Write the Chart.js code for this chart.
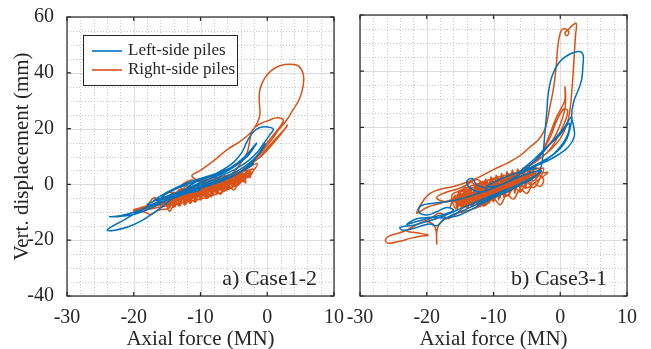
<!DOCTYPE html>
<html>
<head>
<meta charset="utf-8">
<script src="https://cdn.jsdelivr.net/npm/chart.js@4/dist/chart.umd.min.js"></script>
<style>
  body { margin: 0; background: #fff; }
  .wrap { position: relative; width: 651px; height: 349px; }
  .wrap canvas { position: absolute; left: 0; top: 0; }
</style>
</head>
<body>
<div class="wrap">
  <canvas id="panelA" width="651" height="349"></canvas>
  <canvas id="panelB" width="651" height="349"></canvas>
</div>
<script>
// tick labels and names
const xTicks = [-30, -20, -10, 0, 10];
const yTicks = [-40, -20, 0, 20, 40, 60];
const xMinor = [-28, -26, -24, -22, -18, -16, -14, -12, -8, -6, -4, -2, 2, 4, 6, 8];
const yMinor = [-35, -30, -25, -15, -10, -5, 5, 10, 15, 25, 30, 35, 45, 50, 55];
const seriesNames = ["Left-side piles", "Right-side piles"];
const panelNames = ["a) Case1-2", "b) Case3-1"];

// a) Case1-2, left-side piles  [axial force MN, vert. displacement mm]
const case12Left = [
  [-10,-2],[-12,-3.2],[-14,-4.8],[-16,-6.5],[-18,-8.2],[-20,-10],[-22,-11.2],[-23.6,-11.6],[-21.5,-11.3],[-19.5,-10.4],
  [-17.5,-8.6],[-15.5,-6.2],[-13.5,-3.5],[-11.5,-1],[-9.5,1.2],[-7.5,3],[-5.5,5.5],[-4,8],[-3,10],[-2.2,12.5],
  [-1.6,14.8],[-2.4,12.5],[-3.8,9],[-5.5,6],[-7.5,3.5],[-9.5,1],[-11.5,-1],[-13.5,-3],[-15.5,-5.2],[-17.5,-7.5],
  [-19.5,-10],[-21.5,-12.8],[-23.2,-15],[-24,-16.5],[-22.8,-16.4],[-20.8,-15.2],[-18.8,-13],[-17,-10.2],[-15.5,-7.6],[-14,-4.6],
  [-12.5,-2],[-11,0.5],[-9.5,2],[-8,3.5],[-6.5,5.5],[-5,8],[-3.8,11.5],[-3,15.5],[-2.2,18.5],[-1.2,20.3],
  [0,20.6],[0.9,19.8],[0.3,17.5],[-0.6,14.5],[-1.5,11.5],[-2.8,8.5],[-4.5,5.8],[-6.5,3.5],[-8.5,1.2],[-10.5,-0.6],
  [-12.5,-2.2],[-14.5,-3.8],[-16.5,-5.5],[-18,-7.2],[-16.5,-6.8],[-14.5,-5],[-12.5,-3.4],[-10.5,-1.8],[-8.5,-0.2],[-6.5,1.5],
  [-4.5,3.8],[-3,6.2],[-1.8,9],[-1,12],[-0.3,14.5],[-1.2,11],[-2.5,8],[-4,5.5],[-6,3],[-8,1],
  [-10,-0.8],[-12,-2.5],[-14,-4],[-15.8,-4.5],[-14.2,-2.2],[-12.5,-0.5],[-10.8,1],[-9,2.5],[-7.2,4],[-5.5,6],
  [-4,8.5],[-5.5,6],[-7.5,4],[-9.5,2.5],[-11.5,1],[-13.5,-1],[-15.5,-3.5],[-17,-5.8],[-15.5,-5],[-13.5,-3.8],
  [-11.5,-2.2],[-9.5,-0.8],[-7.5,0.8],[-5.5,2.8],[-3.5,5],[-2,7.5]
];

// a) Case1-2, right-side piles
const case12Right = [
  [-8,-1],[-10,-3],[-12,-4.5],[-14,-6],[-16,-7.2],[-18,-8.4],[-20,-9.6],[-18.5,-9.8],[-17.5,-10.8],[-16.5,-9.4],
  [-15,-8.8],[-14.6,-9.6],[-14,-7.5],[-12.5,-6.5],[-11,-5.8],[-9.5,-5],[-8,-3.8],[-6.5,-2.5],[-5,-0.8],[-3.5,1.5],
  [-2.2,4.5],[-1.5,7.5],[-2.8,6],[-4.5,3.5],[-6.5,1],[-8.5,-1.2],[-10.5,-2.8],[-12.5,-4.2],[-14.5,-5.4],[-16.5,-6.6],
  [-18.5,-8],[-20,-9.2],[-17.5,-8.8],[-15.5,-7.8],[-13.5,-6.8],[-12,-4],[-11,-6],[-10,-3],[-9,-5],[-8,-1.5],
  [-7,-3.5],[-6,0],[-5,-2],[-4,2],[-3.2,0.5],[-3.8,3.5],[-5,1.2],[-6,3],[-7,-0.5],[-8,1.5],
  [-9,-2.5],[-10,0],[-11,-3.5],[-12,-1.5],[-13,-4.8],[-14,-2.8],[-15,-5.8],[-14,-3.8],[-13,-1.8],[-12,-3.8],
  [-11,-0.5],[-10,-2.8],[-9,0.8],[-8,-2],[-7,1.8],[-6,-0.8],[-5,2.8],[-4,0.8],[-3,4.5],[-2.5,2.5],
  [-3.5,5],[-5,3],[-7.5,1],[-9.5,1],[-11.3,3],[-10,5],[-8,8.5],[-6,12.5],[-4,15.5],[-2.5,18.5],
  [-1.6,21.5],[-1.1,25],[-1.2,30],[-1.1,34],[-0.4,38],[0.6,40.8],[2,42.6],[3.5,43.1],[4.7,42.4],[5.4,39.5],
  [5.4,35.5],[4.8,30.5],[3.8,26.5],[2.9,23],[1.8,19.8],[0.9,16.8],[0,14],[-1,11.2],[-2,8.8],[-3.2,6.2],
  [-4.5,4],[-6,2.2],[-5,4.5],[-4,7.5],[-3,11.5],[-2.6,16],[-2.2,19.5],[-1,21.8],[0.3,23],[1.5,23.9],
  [2.4,23.1],[2,21],[1,18],[0,15],[-1,12],[-2,9],[-3,6.5],[-1.5,9],[0,13],[1.5,17],
  [2.7,20],[3,21.2],[2.2,18.5],[1,15],[-0.5,11],[-2,8],[-4,4.5],[-6,2.5],[-7.5,-0.8],[-9,1],
  [-10.5,-2.2],[-12,-0.5],[-13.5,-3.5],[-15,-2.8],[-16,-5.5],[-17,-4.8],[-18,-7.5],[-19,-8.5],[-17,-7],[-15.5,-6.5],
  [-14,-4.5],[-13,-6],[-11.5,-3],[-10.5,-4.8],[-9.5,-1.5],[-8.5,-3.8],[-7.5,0],[-6.5,-2.2],[-5.5,1.5],[-4.5,-0.5],
  [-3.5,2.5],[-2.5,5],[-3,3],[-4.5,4.5],[-6.5,2],[-8.5,2.8],[-10,1],[-11.5,1.5],[-13,-1],[-12,-2.5],
  [-14,-3.5],[-13.3,-7.5],[-12.8,-4.5],[-12,-6],[-11.6,-1.5],[-11,-5],[-10.4,-2],[-10,-4.5],[-9.5,0.5],[-9,-3.5],
  [-8.4,-0.5],[-8,-3],[-7.5,2],[-7,-2],[-6.3,1.5],[-5.8,-1.5],[-5.2,3.5],[-4.6,0],[-4,4],[-3.5,1.5],
  [-3,5],[-3.6,2],[-4.2,3.8],[-4.8,0.5],[-5.5,2.5],[-6,-1],[-6.7,1.8],[-7.2,-2],[-7.8,0.8],[-8.3,-2.8],
  [-9,-0.2],[-9.6,-3.5],[-10.1,-1],[-10.7,-4.5],[-11.3,-2],[-11.8,-5.5],[-12.5,-2.5],[-13,-6.2],[-13.6,-3.8],[-14.2,-7],
  [-15,-5],[-15.8,-7.8],[-16.5,-5.8],[-15.5,-5.2],[-14.8,-7.8],[-14,-4.8],[-13.2,-5.5],[-12.6,-3],[-12,-5],[-11.2,-2.5],
  [-10.6,-3.8],[-9.8,-0.8],[-9.2,-3],[-8.6,0.8],[-7.9,-1.8],[-7.3,1],[-6.6,-1],[-6,2.5],[-5.3,0.2],[-4.7,2.8],
  [-4.1,1],[-3.4,3.8],[-2.8,2.5],[-2.2,5.5],
  [-15.2,-4.6],[-14.8,-8.6],[-14.4,-3.8],[-14,-8.2],[-13.6,-3],[-13.2,-7.8],[-12.8,-2.2],[-12.4,-7.4],[-12,-1.4],[-11.6,-6.8],
  [-11.2,-0.6],[-10.8,-6.4],[-10.4,0.2],[-10,-5.6],[-9.6,0.8],[-9.2,-5],[-8.8,1.4],[-8.4,-4.4],[-8,2],[-7.6,-3.6],
  [-7.2,2.6],[-6.8,-2.8],[-6.4,3.2],[-6,-2],[-5.6,3.6],[-5.2,-1],[-4.8,4],[-4.4,0],[-4,4.5],[-3.6,1],
  [-3.2,5],[-3.4,2],[-3.8,4.8],[-4.2,0.6],[-4.6,4],[-5,-0.4],[-5.4,3.4],[-5.8,-1.4],[-6.2,2.8],[-6.6,-2.4],
  [-7,2.2],[-7.4,-3.2],[-7.8,1.6],[-8.2,-4],[-8.6,1],[-9,-4.6],[-9.4,0.4],[-9.8,-5.2],[-10.2,-0.4],[-10.6,-6],
  [-11,-1],[-11.4,-6.6],[-11.8,-1.8],[-12.2,-7.2],[-12.6,-2.6],[-13,-7.6],[-13.4,-3.4],[-13.8,-8],[-14.2,-4.2],[-14.6,-8.4],
  [-15,-5.2]
];

// b) Case3-1, left-side piles
const case31Left = [
  [-8,-2],[-10,-4],[-12,-6],[-14,-8],[-16,-10],[-18,-12],[-20,-13.5],[-22,-14.8],[-24,-15.6],[-23.6,-16.6],
  [-22,-16],[-20.5,-14.8],[-19.5,-14.4],[-18.5,-15],[-17.5,-12.8],[-16,-11],[-14,-9],[-12,-6.8],[-10,-4.5],[-8,-2.2],
  [-6,0],[-4,2.5],[-2.8,4.5],[-4,4.2],[-6,2.5],[-8,0.5],[-10,-1.5],[-12,-3],[-13.5,-1.5],[-14,0.8],
  [-13.2,1.8],[-12.5,-0.5],[-11,-2],[-13,-4],[-15,-5.5],[-17,-6.5],[-19,-7],[-20.8,-7.8],[-21.2,-10],[-20,-11.2],
  [-18.5,-10],[-17,-8.5],[-16,-9.5],[-17.5,-11],[-19.5,-12.2],[-21.5,-13.5],[-23,-14.5],[-21.5,-12.5],[-19.5,-12],[-17.5,-12.2],
  [-15.5,-11.5],[-14,-10],[-12,-7.5],[-10,-5],[-8,-3],[-6,-0.5],[-4,2],[-3,5],[-2.6,10],[-2.3,18],
  [-2,26],[-1.8,32],[-1.2,38.5],[-0.2,43],[1,45.5],[2.7,47],[3.4,46],[3.4,42],[3.2,37],[2.7,33.3],
  [2,29],[1.7,24],[2,20.3],[2.1,16.7],[1.2,13],[-0.5,10],[-2,8],[-4,6],[-6,3.5],[-5,5.5],
  [-3,10],[-1,15.5],[0.6,20],[1.7,23.8],[1.5,20],[1,16],[0,12.5],[-1.5,9.5],[-3,7],[-6,4],
  [-4,8.5],[-2,13],[0,17.5],[1.3,21.5],[1.2,18],[0.3,14],[-1,10.5],[-3,7.5],[-5,5],[-7,2],
  [-9,-0.5],[-11,-1],[-9.5,1],[-7.5,3],[-5.5,4.5],[-3.5,5.5]
];

// b) Case3-1, right-side piles
const case31Right = [
  [-10,0],[-12,-2],[-14,-4],[-16,-5.5],[-18,-7],[-20,-8.5],[-21.5,-10.5],[-20.5,-6],[-19.5,-3.5],[-18,-2],
  [-16,-1],[-14,0.5],[-12,2.5],[-10,5],[-8,7.2],[-6,10],[-4.5,13.1],[-3.2,15.8],[-2.2,20],[-1.5,28],
  [-1,34],[-0.6,42],[-0.3,50],[0.2,54.7],[0.8,55],[1.3,54],[1,52.6],[0.7,53.6],[1.2,54.8],[1.8,56.2],
  [2.4,57],[2.3,53],[2.2,49.5],[2,42],[1.8,35],[1.5,27],[1,21],[0,16],[-1.5,12],[-3,9],
  [-4.5,6.5],[-3,10],[-1.5,18],[-0.5,24],[0.3,27.5],[0.7,30],[0.7,34.5],[0.8,29],[0.6,25.5],[0,21],
  [-1,16],[-2.5,12],[-1.5,16.5],[-0.5,22.5],[0.5,26.5],[1.1,26],[0.7,22],[-0.5,16],[-2,11],[-4,7.5],
  [-6,4.5],[-8,2],[-10,0.5],[-12,-1.5],[-13.5,0.5],[-14.5,-2.5],[-13,-4],[-11.5,-1],[-10,-3.5],[-9,0],
  [-8,-2.5],[-7,1.5],[-6,-0.5],[-5,3],[-4,1],[-3,4.5],[-4,5.5],[-5.5,2],[-7,3.5],[-8.5,-1],
  [-10,1.5],[-11,-2.5],[-12,0],[-13,-3],[-14,-5],[-15,-3.5],[-16,-6],[-14.5,-7],[-13,-5],[-12,-7],
  [-11,-4],[-10,-6],[-9,-2.5],[-8,-4.5],[-7,-1],[-6,-3],[-5,0.5],[-4,-1.5],[-3,2],[-2.5,5.5],
  [-4,3.5],[-5.5,1.5],[-7,-0.5],[-8.5,-3],[-10,-5],[-11.5,-7.5],[-13,-9],[-14.5,-10],[-16,-11],[-16.8,-12.5],
  [-18,-10.5],[-19.5,-12.5],[-21,-14],[-22.5,-16],[-24,-17.5],[-25.5,-18.5],[-26.2,-20],[-25.8,-21.2],[-24,-20.5],[-22.5,-19.5],
  [-21,-18.7],[-19.8,-18.3],[-21.5,-17.5],[-23,-16.8],[-21.8,-15],[-20.2,-13.5],[-19,-14.5],[-18.6,-17],[-18.5,-21.5],[-18.4,-16],
  [-17.5,-13],[-16,-11.5],[-14.5,-8.5],[-13,-6],[-11.5,-8],[-10,-5.5],[-9,-7.5],[-8,-4],[-7,-5.5],[-6,-2],
  [-5,-3.5],[-4,0],[-3,-1],[-2.5,1.5],[-3.5,3],[-5,1],[-6.5,2.5],[-8,0],[-9.5,2],[-11,-0.5],
  [-12.5,1.5],[-14,-0.5],[-15.5,-2],[-17,-3],[-18.5,-5],[-17,-6.5],[-15.5,-5],[-14,-7.5],[-12.5,-4],[-11,-5],
  [-9.5,-2],[-8,-3],[-6.5,0],[-5,-1.5],[-3.5,1],[-2,4],
  [-15,-3],[-14.4,-7.5],[-13.8,-2],[-13.2,-6.5],[-12.6,-1],[-12,-5.5],[-11.5,0.5],[-11,-6],[-10.5,1],[-10,-4],
  [-9.5,2.5],[-9,-3.5],[-8.5,2],[-8,-2],[-7.5,3.5],[-7,-1],[-6.5,3],[-6,0.5],[-5.5,4.5],[-5,1.5],
  [-4.5,5],[-5,3],[-5.6,0],[-6.2,3.5],[-6.8,-1.5],[-7.4,2.5],[-8,-3],[-8.6,1.5],[-9.2,-4],[-9.8,0.5],
  [-10.4,-5],[-11,-0.5],[-11.6,-6.5],[-12.2,-1.5],[-12.8,-7],[-13.4,-2.5],[-14,-7.5],[-14.6,-3.5],[-15.2,-8],[-15.8,-4.5],
  [-16.5,-8.5],[-16,-6],[-15.3,-5],[-14.6,-8.5],[-14,-4],[-13.3,-8],[-12.7,-3],[-12.1,-7.5],[-11.5,-2],[-10.9,-6],
  [-10.3,-0.5],[-9.7,-5],[-9.1,1],[-8.5,-4],[-7.9,2],[-7.3,-2.5],[-6.7,2.8],[-6.1,-1],[-5.5,3.5],[-4.9,0.5],
  [-4.3,4],[-3.7,2],[-3.1,5.5],
  [-16,-3.5],[-15.6,-9],[-15.2,-2.5],[-14.8,-8.8],[-14.4,-1.8],[-14,-8.5],[-13.6,-1],[-13.2,-8.2],[-12.8,-0.2],[-12.4,-7.8],
  [-12,0.8],[-11.6,-7.4],[-11.2,1.6],[-10.8,-7],[-10.4,2.4],[-10,-6.5],[-9.6,3],[-9.2,-5.8],[-8.8,3.6],[-8.4,-5],
  [-8,4.2],[-7.6,-4.2],[-7.2,4.8],[-6.8,-3.4],[-6.4,5.2],[-6,-2.6],[-5.6,5.6],[-5.2,-1.8],[-4.8,6],[-4.4,-1],
  [-4,6.2],[-4.2,2],[-4.6,5.5],[-5,0],[-5.4,5],[-5.8,-1],[-6.2,4.5],[-6.6,-2],[-7,4],[-7.4,-3],
  [-7.8,3.5],[-8.2,-4],[-8.6,3],[-9,-5],[-9.4,2.5],[-9.8,-6],[-10.2,2],[-10.6,-6.8],[-11,1.2],[-11.4,-7.2],
  [-11.8,0.4],[-12.2,-7.6],[-12.6,-0.5],[-13,-8],[-13.4,-1.4],[-13.8,-8.4],[-14.2,-2.2],[-14.6,-8.6],[-15,-3],[-15.4,-9],
  [-15.8,-4]
];

const blue = "#0072BD";
const orange = "#D95319";
const ink = "#262626";
const serif = "'Liberation Serif', 'Times New Roman', serif";

// grid, box and inward ticks like a matlab axes
const axesBox = {
  id: "axesBox",
  beforeDatasetsDraw(chart) {
    const { ctx, chartArea: a, scales: { x, y } } = chart;
    ctx.save();
    ctx.lineWidth = 1;
    ctx.strokeStyle = "#c8c8c8";
    ctx.setLineDash([1, 2]);
    ctx.beginPath();
    xMinor.forEach(v => { const p = Math.round(x.getPixelForValue(v)) + 0.5; ctx.moveTo(p, a.top); ctx.lineTo(p, a.bottom); });
    yMinor.forEach(v => { const p = Math.round(y.getPixelForValue(v)) + 0.5; ctx.moveTo(a.left, p); ctx.lineTo(a.right, p); });
    ctx.stroke();
    ctx.setLineDash([]);
    ctx.strokeStyle = "#dcdcdc";
    ctx.beginPath();
    xTicks.forEach(v => { const p = Math.round(x.getPixelForValue(v)) + 0.5; ctx.moveTo(p, a.top); ctx.lineTo(p, a.bottom); });
    yTicks.forEach(v => { const p = Math.round(y.getPixelForValue(v)) + 0.5; ctx.moveTo(a.left, p); ctx.lineTo(a.right, p); });
    ctx.stroke();
    ctx.restore();
  },
  afterDatasetsDraw(chart) {
    const { ctx, chartArea: a, scales: { x, y } } = chart;
    ctx.save();
    ctx.strokeStyle = ink;
    ctx.lineWidth = 1.2;
    ctx.beginPath();
    xTicks.forEach(v => {
      const p = x.getPixelForValue(v);
      ctx.moveTo(p, a.bottom); ctx.lineTo(p, a.bottom - 4);
      ctx.moveTo(p, a.top); ctx.lineTo(p, a.top + 4);
    });
    yTicks.forEach(v => {
      const p = y.getPixelForValue(v);
      ctx.moveTo(a.left, p); ctx.lineTo(a.left + 4, p);
      ctx.moveTo(a.right, p); ctx.lineTo(a.right - 4, p);
    });
    ctx.stroke();
    ctx.strokeRect(a.left, a.top, a.right - a.left, a.bottom - a.top);
    ctx.restore();
  },
  afterDraw(chart, args, opts) {
    const { ctx, chartArea: a } = chart;
    ctx.save();
    ctx.fillStyle = ink;
    ctx.font = "22px " + serif;
    ctx.textAlign = "right";
    ctx.textBaseline = "middle";
    ctx.fillText(opts.panel, a.right - opts.labelInset, a.bottom - 17);
    if (opts.legend) {
      const lx = a.left + 16, ly = a.top + 18;
      ctx.fillStyle = "#fff";
      ctx.fillRect(lx, ly, 154, 50);
      ctx.strokeStyle = ink;
      ctx.lineWidth = 1;
      ctx.strokeRect(lx + 0.5, ly + 0.5, 154, 50);
      ctx.font = "17px " + serif;
      ctx.textAlign = "left";
      [blue, orange].forEach((c, i) => {
        const yy = ly + 16 + i * 19;
        ctx.strokeStyle = c;
        ctx.lineWidth = 1.6;
        ctx.beginPath();
        ctx.moveTo(lx + 9, yy); ctx.lineTo(lx + 39, yy);
        ctx.stroke();
        ctx.fillStyle = ink;
        ctx.fillText(seriesNames[i], lx + 45, yy);
      });
    }
    ctx.restore();
  }
};

function toXY(pairs) {
  return pairs.map(p => ({ x: p[0], y: p[1] }));
}

function makePanel(id, leftPiles, rightPiles, panel, first) {
  new Chart(document.getElementById(id), {
    type: "scatter",
    data: {
      datasets: [
        { label: seriesNames[0], data: toXY(leftPiles), borderColor: blue },
        { label: seriesNames[1], data: toXY(rightPiles), borderColor: orange }
      ].map(d => Object.assign(d, { showLine: true, pointRadius: 0, borderWidth: 1.5, tension: 0.4, fill: false }))
    },
    options: {
      responsive: false,
      animation: false,
      events: [],
      layout: { padding: { top: 15, bottom: 0, left: 0, right: first ? 317 : 24 } },
      plugins: {
        legend: { display: false },
        tooltip: { enabled: false },
        axesBox: { panel: panel, legend: first, labelInset: first ? 17 : 20 }
      },
      scales: {
        x: {
          type: "linear", min: -30, max: 10,
          afterBuildTicks: s => { s.ticks = xTicks.map(v => ({ value: v })); },
          afterFit: s => { s.height = 53; },
          grid: { display: false },
          border: { display: false },
          ticks: { color: ink, font: { family: serif, size: 20 }, padding: 2, maxRotation: 0, autoSkip: false },
          title: { display: true, text: "Axial force (MN)", color: ink, font: { family: serif, size: 21, lineHeight: 0.9 }, padding: 0 }
        },
        y: {
          type: "linear", min: -40, max: 60,
          afterBuildTicks: s => { s.ticks = yTicks.map(v => ({ value: v })); },
          afterFit: s => { s.width = first ? 67 : 360; },
          grid: { display: false },
          border: { display: false },
          ticks: { display: first, color: ink, font: { family: serif, size: 20 }, padding: 5 },
          title: { display: first, text: "Vert. displacement (mm)", color: ink, font: { family: serif, size: 21 }, padding: { top: 10, bottom: 0 } }
        }
      }
    },
    plugins: [axesBox]
  });
}

makePanel("panelA", case12Left, case12Right, panelNames[0], true);
makePanel("panelB", case31Left, case31Right, panelNames[1], false);
</script>
</body>
</html>
